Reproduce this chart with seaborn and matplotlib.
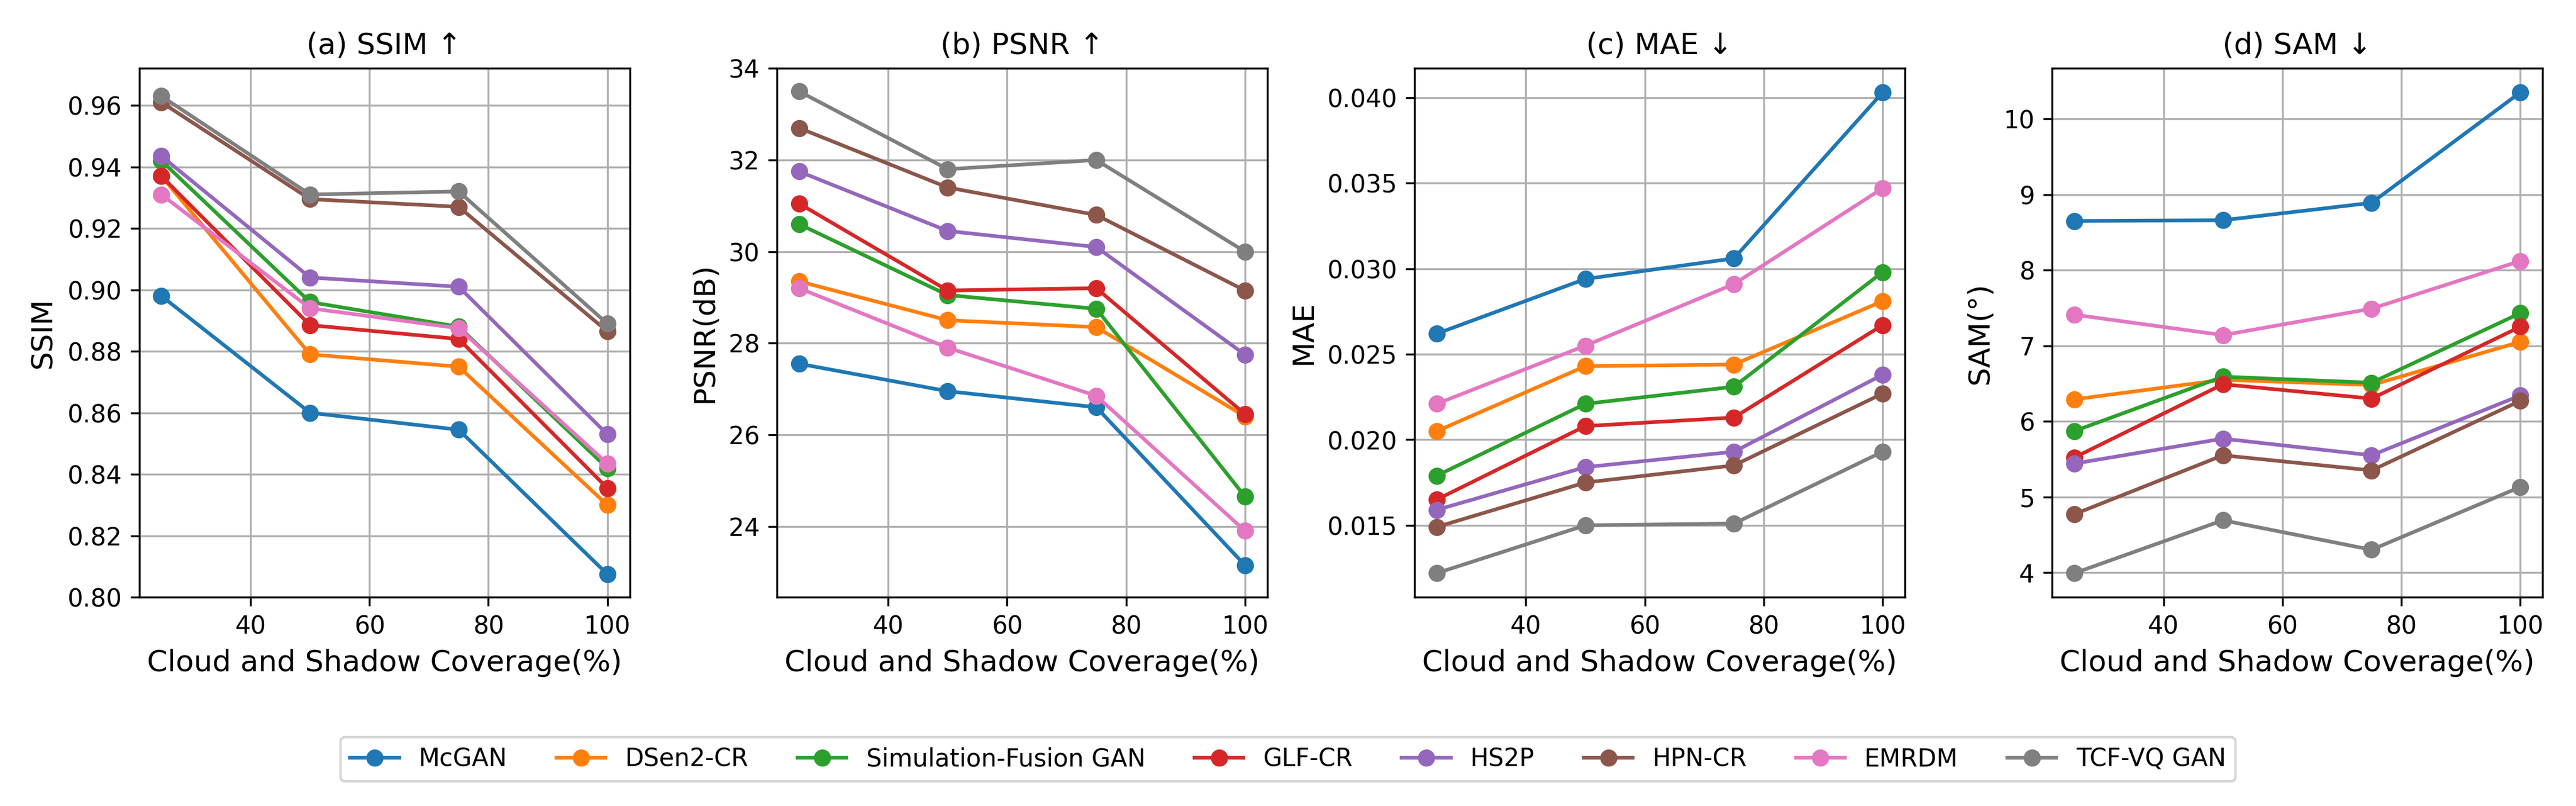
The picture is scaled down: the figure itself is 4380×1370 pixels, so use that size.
import pandas as pd
import matplotlib
matplotlib.use("Agg")
import matplotlib.pyplot as plt
import seaborn as sns

coverage = [25, 50, 75, 100]
methods = ['McGAN', 'DSen2-CR', 'Simulation-Fusion GAN', 'GLF-CR', 'HS2P', 'HPN-CR', 'EMRDM', 'TCF-VQ GAN']

ssim = {
    'McGAN': [0.898, 0.860, 0.8545, 0.8075],
    'DSen2-CR': [0.937, 0.879, 0.875, 0.830],
    'Simulation-Fusion GAN': [0.942, 0.896, 0.888, 0.842],
    'GLF-CR': [0.937, 0.8885, 0.884, 0.8355],
    'HS2P': [0.9435, 0.904, 0.901, 0.853],
    'HPN-CR': [0.961, 0.9295, 0.927, 0.8865],
    'EMRDM': [0.931, 0.894, 0.8875, 0.8435],
    'TCF-VQ GAN': [0.963, 0.931, 0.932, 0.889],
}
psnr = {
    'McGAN': [27.55, 26.95, 26.6, 23.15],
    'DSen2-CR': [29.35, 28.5, 28.35, 26.4],
    'Simulation-Fusion GAN': [30.6, 29.05, 28.75, 24.65],
    'GLF-CR': [31.05, 29.15, 29.2, 26.45],
    'HS2P': [31.75, 30.45, 30.1, 27.75],
    'HPN-CR': [32.7, 31.4, 30.8, 29.15],
    'EMRDM': [29.2, 27.9, 26.85, 23.9],
    'TCF-VQ GAN': [33.5, 31.8, 32.0, 30.0],
}
mae = {
    'McGAN': [0.0262, 0.0294, 0.0306, 0.0403],
    'DSen2-CR': [0.0205, 0.0243, 0.0244, 0.0281],
    'Simulation-Fusion GAN': [0.0179, 0.0221, 0.0231, 0.0298],
    'GLF-CR': [0.0165, 0.0208, 0.0213, 0.0267],
    'HS2P': [0.0159, 0.0184, 0.0193, 0.0238],
    'HPN-CR': [0.0149, 0.0175, 0.0185, 0.0227],
    'EMRDM': [0.0221, 0.0255, 0.0291, 0.0347],
    'TCF-VQ GAN': [0.0122, 0.0150, 0.0151, 0.0193],
}
sam = {
    'McGAN': [8.65, 8.66, 8.89, 10.35],
    'DSen2-CR': [6.29, 6.55, 6.48, 7.05],
    'Simulation-Fusion GAN': [5.87, 6.59, 6.51, 7.43],
    'GLF-CR': [5.52, 6.49, 6.30, 7.25],
    'HS2P': [5.44, 5.77, 5.55, 6.34],
    'HPN-CR': [4.77, 5.55, 5.35, 6.27],
    'EMRDM': [7.41, 7.14, 7.49, 8.12],
    'TCF-VQ GAN': [3.99, 4.69, 4.30, 5.13],
}

panels = [
    (ssim, '(a) SSIM ↑', 'SSIM'),
    (psnr, '(b) PSNR ↑', 'PSNR(dB)'),
    (mae, '(c) MAE ↓', 'MAE'),
    (sam, '(d) SAM ↓', 'SAM(°)'),
]

palette = sns.color_palette('tab10', 8)

fig, axes = plt.subplots(1, 4, figsize=(14.6, 4.567), dpi=300)
fig.subplots_adjust(left=0.054, right=0.987, top=0.915, bottom=0.259, wspace=0.3)

for ax, (data, title, ylabel) in zip(axes, panels):
    rows = []
    for m in methods:
        for c, v in zip(coverage, data[m]):
            rows.append({'coverage': c, 'value': v, 'method': m})
    df = pd.DataFrame(rows)
    sns.lineplot(data=df, x='coverage', y='value', hue='method', hue_order=methods,
                 palette=palette, marker='o', markersize=7, markeredgewidth=0,
                 linewidth=1.5, ax=ax, legend=(ax is axes[0]))
    ax.set_title(title, fontsize=12)
    ax.set_xlabel('Cloud and Shadow Coverage(%)', fontsize=12)
    ax.set_ylabel(ylabel, fontsize=12)
    ax.set_xticks([40, 60, 80, 100])
    ax.tick_params(labelsize=10)
    ax.grid(True)

axes[0].set_ylim(0.80, 0.972)
axes[1].set_yticks([24, 26, 28, 30, 32, 34])
axes[1].set_ylim(22.45, 34.0)
axes[2].set_yticks([0.015, 0.020, 0.025, 0.030, 0.035, 0.040])

handles, labels = axes[0].get_legend_handles_labels()
axes[0].get_legend().remove()
fig.legend(handles, labels, loc='center', bbox_to_anchor=(0.5, 0.058), ncol=8, fontsize=10)

fig.savefig('out.png', dpi=300)
